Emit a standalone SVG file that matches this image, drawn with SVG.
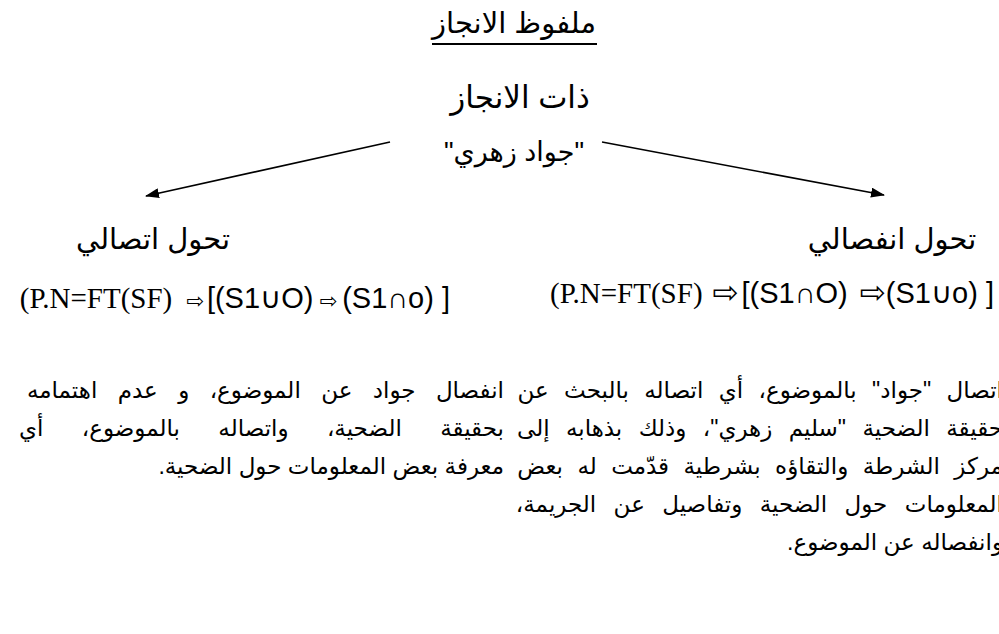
<svg xmlns="http://www.w3.org/2000/svg" width="999" height="634" viewBox="0 0 999 634">
<defs>
<style>
.ar{font-family:"Liberation Sans","DejaVu Sans",sans-serif;fill:#000;direction:rtl;unicode-bidi:embed}
.h{font-size:29px}
.p{font-size:23px}
.tm{font-family:"Liberation Serif",serif;font-size:29px}
.sa{font-family:"Liberation Sans","DejaVu Sans",sans-serif;font-size:29px}
.arL{font-family:"DejaVu Sans",sans-serif;font-size:21px}
.arR{font-family:"DejaVu Sans",sans-serif;font-size:31px}
.con{stroke:#000;stroke-width:1.6;fill:none}
</style>
<marker id="ah" viewBox="0 0 14 10" refX="13" refY="5" markerWidth="14" markerHeight="10" markerUnits="userSpaceOnUse" orient="auto">
<path d="M0,0 L14,5 L0,10 z" fill="#000"/>
</marker>
</defs>
<rect width="999" height="634" fill="#fff"/>

<g id="title">
<text class="ar h" x="514" y="33" text-anchor="middle">ملفوظ الانجاز</text>
<line x1="432" y1="44" x2="597" y2="44" stroke="#000" stroke-width="2"/>
</g>

<g id="subject">
<text class="ar h" x="520" y="108" text-anchor="middle" style="font-size:31px">ذات الانجاز</text>
<text class="ar h" x="514" y="161" text-anchor="middle" style="font-size:27px">"جواد زهري"</text>
</g>

<g id="connectors">
<line class="con" x1="390" y1="142" x2="146" y2="196" marker-end="url(#ah)"/>
<line class="con" x1="602" y1="142" x2="884" y2="195" marker-end="url(#ah)"/>
</g>

<g id="conjunctive">
<text class="ar h" x="153" y="249" text-anchor="middle">تحول اتصالي</text>
<text x="450" y="308" direction="ltr" text-anchor="end"><tspan class="tm">(P.N=FT(SF)</tspan><tspan class="arL" dx="14">⇨</tspan><tspan class="sa" dx="3">[(S1∪O)</tspan><tspan class="arL" dx="6">⇨</tspan><tspan class="sa" dx="5">(S1∩o) ]</tspan></text>
<text class="ar p" x="504" y="398" text-anchor="start" style="word-spacing:14px">انفصال جواد عن الموضوع، و عدم اهتمامه</text>
<text class="ar p" x="504" y="436" text-anchor="start" style="word-spacing:32px">بحقيقة الضحية، واتصاله بالموضوع، أي</text>
<text class="ar p" x="504" y="474" text-anchor="start">معرفة بعض المعلومات حول الضحية.</text>
</g>

<g id="disjunctive">
<text class="ar h" x="892" y="249" text-anchor="middle">تحول انفصالي</text>
<text x="550" y="303" direction="ltr"><tspan class="tm">(P.N=FT(SF)</tspan><tspan class="arR" dx="10">⇨</tspan><tspan class="sa" dx="3">[(S1∩O)</tspan><tspan class="arR" dx="12">⇨</tspan><tspan class="sa">(S1∪o) ]</tspan></text>
<text class="ar p" x="1003" y="398" text-anchor="start" style="word-spacing:9px">اتصال "جواد" بالموضوع، أي اتصاله بالبحث عن</text>
<text class="ar p" x="1003" y="436" text-anchor="start" style="word-spacing:10px">حقيقة الضحية "سليم زهري"، وذلك بذهابه إلى</text>
<text class="ar p" x="1003" y="474" text-anchor="start" style="word-spacing:8px">مركز الشرطة والتقاؤه بشرطية قدّمت له بعض</text>
<text class="ar p" x="1003" y="512" text-anchor="start" style="word-spacing:11px">المعلومات حول الضحية وتفاصيل عن الجريمة،</text>
<text class="ar p" x="1003" y="550" text-anchor="start">وانفصاله عن الموضوع.</text>
</g>
</svg>
